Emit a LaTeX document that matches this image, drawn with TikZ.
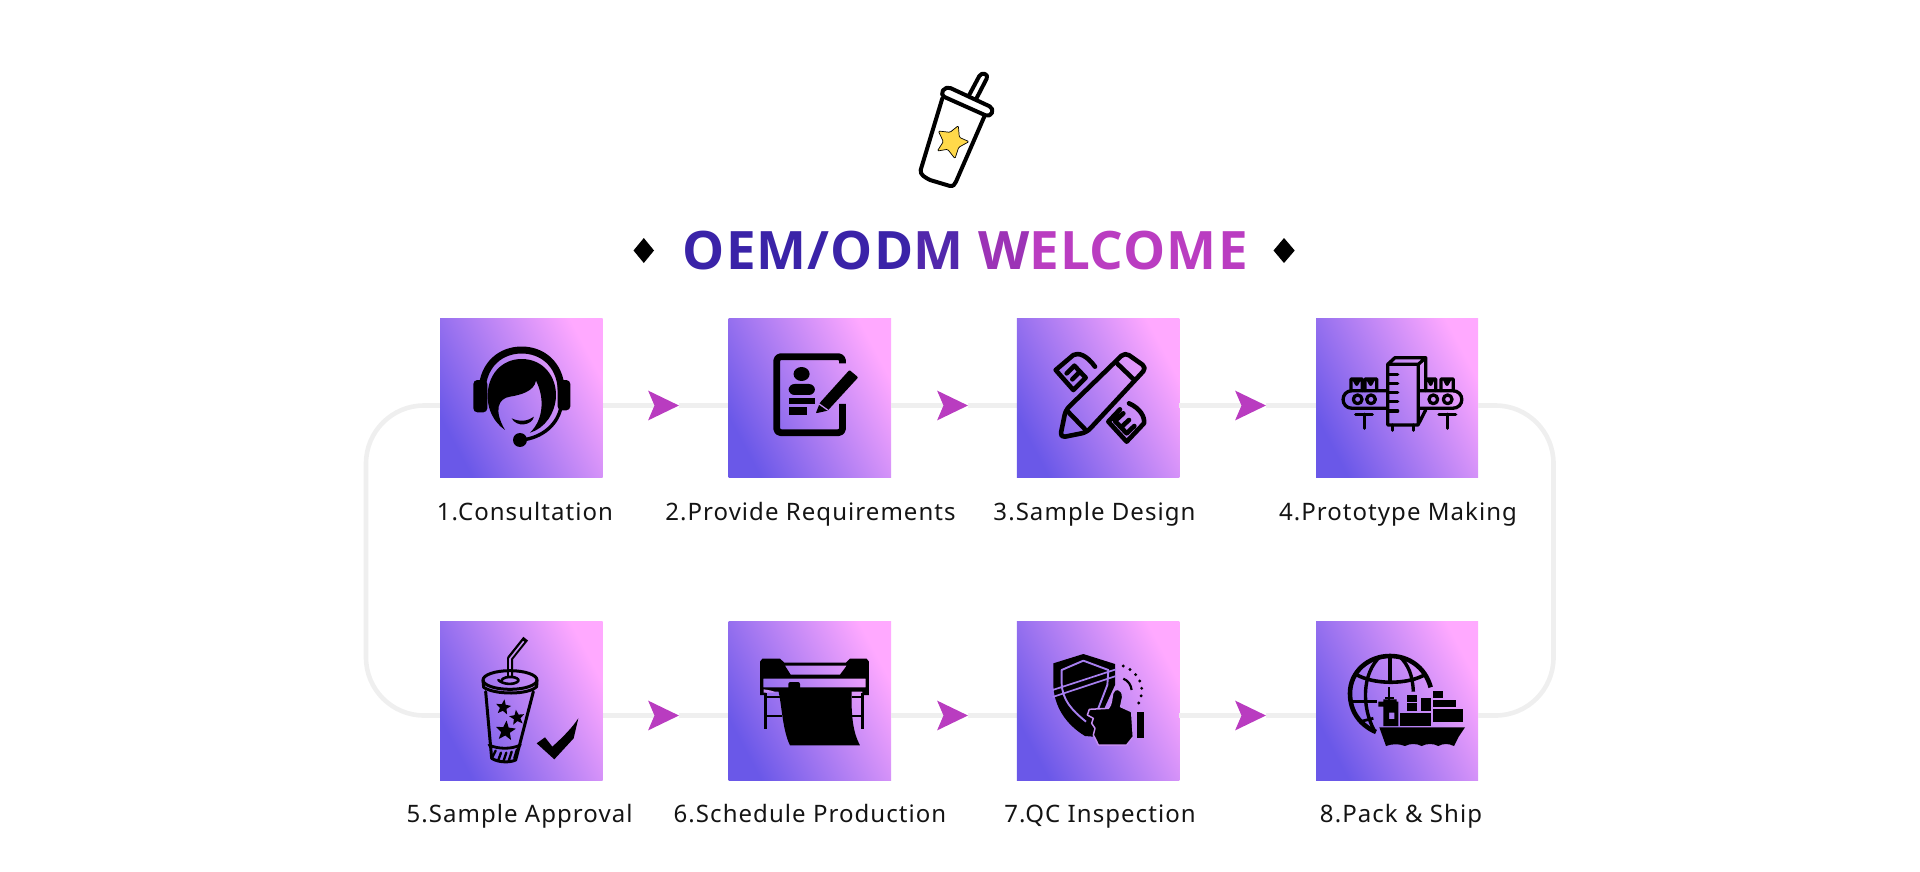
\documentclass[tikz,border=0pt]{standalone}
\usepackage{fontspec}
\setmainfont{Noto Sans}
\newfontfamily\labelfont[LetterSpace=4.4]{Noto Sans}
\newfontfamily\titlefont[LetterSpace=2]{Open Sans}
\usetikzlibrary{arrows.meta,shapes.geometric,calc}
\pgfdeclarelayer{under}
\pgfsetlayers{under,main}
\definecolor{gradA}{HTML}{6A58E8}
\definecolor{gradB}{HTML}{FFA9FF}
\definecolor{lineGrey}{HTML}{EFEFEF}
\definecolor{arrowPurple}{HTML}{B93CC0}
\definecolor{titleBlue}{HTML}{3A23A8}
\definecolor{titleMix}{HTML}{5228AC}
\definecolor{titleMix2}{HTML}{9C33B6}
\definecolor{titlePink}{HTML}{BA3DC1}
\definecolor{starYellow}{HTML}{FFD94A}
\definecolor{holeA}{HTML}{A77FF0}
\definecolor{holeB}{HTML}{C58EF3}
\tikzset{
  x=1pt,y=-1pt,
  stepbox/.style={rectangle,draw=none,inner sep=0pt,minimum width=#1,minimum height=159pt,
    bottom color=gradA,top color=gradB,shading angle=-62},
  steplabel/.style={anchor=base,inner sep=0pt,text=black!92,font=\labelfont\fontsize{24}{26}\selectfont},
  flowline/.style={draw=lineGrey,line width=4.6pt},
  flowtip/.style={-{Stealth[length=30.5pt 0 0,width=29pt 0 0,inset=6pt 0 0,color=arrowPurple,fill=arrowPurple]}},
  ink/.style={draw=black,line cap=round,line join=round},
  blackstar/.style={star,star points=5,star point ratio=2.3,fill=black,inner sep=0pt},
}
\begin{document}
\begin{tikzpicture}
\useasboundingbox (0,0) rectangle (1920,871);

% gradient squares
\node[stepbox=162.6pt] (b1) at (521.3,398.4) {};
\node[stepbox=162.6pt] (b2) at (809.8,398.4) {};
\node[stepbox=162.5pt] (b3) at (1098,398.4) {};
\node[stepbox=162pt] (b4) at (1397.2,398.4) {};
\node[stepbox=162.6pt] (b5) at (521.3,700.5) {};
\node[stepbox=162.6pt] (b6) at (809.8,700.5) {};
\node[stepbox=162.5pt] (b7) at (1098,700.5) {};
\node[stepbox=162pt] (b8) at (1397.2,700.5) {};

% labels
\node[steplabel] (l1) at (525,520) {1.Consultation};
\node[steplabel] (l2) at (810.5,520) {2.Provide Requirements};
\node[steplabel] (l3) at (1094.5,520) {3.Sample Design};
\node[steplabel] (l4) at (1398,520) {4.Prototype Making};
\node[steplabel] (l5) at (519.5,822.5) {5.Sample Approval};
\node[steplabel] (l6) at (810,822.5) {6.Schedule Production};
\node[steplabel] (l7) at (1100,822.5) {7.QC Inspection};
\node[steplabel] (l8) at (1401,822.5) {8.Pack \& Ship};

% connectors
\coordinate (t12) at (679,405.5);
\coordinate (t23) at (968,405.5);
\coordinate (t34) at (1266,405.5);
\coordinate (t56) at (679,715.5);
\coordinate (t67) at (968,715.5);
\coordinate (t78) at (1266,715.5);
\coordinate (loopL1) at (366,405.5);
\coordinate (loopL2) at (366,715.5);
\coordinate (loopR1) at (1553.5,405.5);
\coordinate (loopR2) at (1553.5,715.5);
\begin{pgfonlayer}{under}
  \draw[flowline] (t12) -- (b2.west |- t12);
  \draw[flowline] (t23) -- (b3.west |- t23);
  \draw[flowline] (t34) -- (b4.west |- t34);
  \draw[flowline] (t56) -- (b6.west |- t56);
  \draw[flowline] (t67) -- (b7.west |- t67);
  \draw[flowline] (t78) -- (b8.west |- t78);
  \draw[flowline,rounded corners=58pt] (b1.west |- loopL1) -- (loopL1) -- (loopL2) -- (b5.west |- loopL2);
  \draw[flowline,rounded corners=58pt] (b4.east |- loopR1) -- (loopR1) -- (loopR2) -- (b8.east |- loopR2);
\end{pgfonlayer}
\draw[flowline,flowtip] (b1.east |- t12) -- (t12);
\draw[flowline,flowtip] (b2.east |- t23) -- (t23);
\draw[flowline,flowtip] (b3.east |- t34) -- (t34);
\draw[flowline,flowtip] (b5.east |- t56) -- (t56);
\draw[flowline,flowtip] (b6.east |- t67) -- (t67);
\draw[flowline,flowtip] (b7.east |- t78) -- (t78);

% title
\node[anchor=base,inner sep=0pt,font=\titlefont\bfseries\fontsize{53}{60}\selectfont] (title) at (965.3,269.3)
  {\textcolor{titleBlue}{OEM/OD}\textcolor{titleMix}{M} \textcolor{titleMix2}{W}\textcolor{titlePink}{ELCOME}};
\fill (633.5,250.5) -- (643.8,238) -- (654,250.5) -- (643.8,263) -- cycle;
\fill (1273.5,250.5) -- (1284,238) -- (1294.7,250.5) -- (1284,263) -- cycle;

% top cup
\begin{scope}[shift={(900,60)},x=0.3333pt,y=-0.3333pt]
  \draw[ink,line width=4pt,fill=white] (206,108) -- (238,48) .. controls (245,35) and (268,42) .. (260,56) -- (228,118);
  \draw[ink,line width=4pt] (127,115) -- (62,330) .. controls (60,345) and (75,352) .. (90,360) -- (150,378) .. controls (160,380) and (165,372) .. (168,365) -- (252,172);
  \draw[ink,line width=4pt,rounded corners=5pt] (138,78) -- (282,145) -- (270,172) -- (120,105) -- cycle;
  \draw[draw=black,line width=0.7pt,fill=starYellow,rounded corners=1.2pt]
    (115,213) -- (150,217) -- (175,197) -- (178,232) -- (207,245) -- (176,262) -- (165,296) -- (143,268) -- (112,273) -- (130,245) -- cycle;
\end{scope}

% icon 1 headset
\begin{scope}[shift={(460,335)},x=0.3333pt,y=-0.3333pt]
  \draw[ink,line width=7pt] (66,165) .. controls (70,85) and (125,45) .. (185,45) .. controls (245,45) and (300,85) .. (304,165);
  \fill[rounded corners=4pt] (40,135) rectangle (82,232);
  \fill[rounded corners=4pt] (293,135) rectangle (331,226);
  \fill (135,285) .. controls (100,260) and (85,225) .. (83,190)
     .. controls (80,120) and (125,72) .. (185,72)
     .. controls (250,72) and (290,125) .. (288,185)
     .. controls (285,235) and (255,280) .. (210,293)
     .. controls (250,255) and (255,190) .. (228,137)
     .. controls (222,170) and (180,180) .. (150,185)
     .. controls (115,190) and (100,225) .. (135,285) -- cycle;
  \fill (155,250) .. controls (180,262) and (205,258) .. (222,245) .. controls (215,272) and (170,278) .. (155,250) -- cycle;
  \draw[ink,line width=3.4pt] (303,215) .. controls (295,265) and (250,308) .. (185,315);
  \fill (180,315) circle[radius=21];
\end{scope}

% icon 2 document
\begin{scope}[shift={(350,300)},x=0.3827pt,y=-0.3333pt]
  \draw[ink,line width=6.8pt,line cap=butt,rounded corners=4pt] (1287,190) -- (1287,170) -- (1115,170) -- (1115,398) -- (1287,398) -- (1287,312);
  \fill (1180,222) circle[radius=21];
  \fill[rounded corners=6pt] (1146,285) -- (1146,252) -- (1215,252) -- (1215,285) -- cycle;
  \fill (1146,293) rectangle (1215,313);
  \fill (1146,322) rectangle (1195,346);
  \fill[rounded corners=1pt] (1217,340) -- (1228,308) -- (1305,210) -- (1328,232) -- (1248,332) -- cycle;
  \draw[draw=holeB,line width=1.3pt] (1226,312) -- (1248,330);
\end{scope}

% icon 3 pencil and rulers
\begin{scope}[shift={(1045,345)},x=0.3333pt,y=-0.3333pt,every path/.append style={ink,line width=4.6pt}]
  \draw[rounded corners=5pt] (45,278) -- (62,195) -- (240,22) -- (305,68) -- (125,262) -- cycle;
  \draw (66,197) -- (125,258);
  \draw (218,57) -- (268,105);
  \draw (150,65) .. controls (125,30) and (100,22) .. (85,30) -- (32,75) -- (85,135) -- (122,98) -- (88,62) -- (65,85) (105,80) -- (82,103);
  \draw (252,175) .. controls (285,190) and (300,215) .. (297,235) -- (245,290) -- (190,230) -- (225,193) (210,228) -- (245,265) -- (268,243) (210,228) -- (235,205) (228,247) -- (252,225);
\end{scope}

% icon 4 conveyor and tower
\begin{scope}[shift={(1335,345)},x=0.3333pt,y=-0.3333pt,every path/.append style={ink,line width=3.3pt}]
  \draw (158,240) -- (158,58) -- (180,38) -- (272,38) -- (250,58) -- (158,58) (250,58) -- (250,240) -- (158,240);
  \draw (272,38) -- (272,100) (272,195) -- (250,238);
  \draw (158,88) -- (188,88) (158,115) -- (188,115) (158,142) -- (188,142) (158,170) -- (188,170) (158,198) -- (188,198);
  \draw (172,240) -- (172,256) (236,240) -- (236,256);
  \draw (156,137) -- (52,137) .. controls (15,137) and (15,190) .. (52,190) -- (156,190);
  \draw (252,137) -- (352,137) .. controls (390,137) and (390,190) .. (352,190) -- (252,190);
  \draw (68,163) circle[radius=13] (108,163) circle[radius=13] (295,163) circle[radius=13] (338,163) circle[radius=13];
  \draw (48,137) -- (48,102) -- (82,102) -- (82,137) (56,102) -- (65,118) -- (74,102);
  \draw (90,137) -- (90,102) -- (125,102) -- (125,137) (98,102) -- (107,118) -- (116,102);
  \draw (272,137) -- (272,102) -- (302,102) -- (302,137) (280,102) -- (287,118) -- (294,102);
  \draw (318,137) -- (318,102) -- (355,102) -- (355,137) (328,102) -- (336,118) -- (345,102);
  \draw (62,208) -- (112,208) (88,208) -- (88,250);
  \draw (312,208) -- (362,208) (338,208) -- (338,250);
\end{scope}

% icon 5 tumbler and tick
\begin{scope}[shift={(465,630)},x=0.3333pt,y=-0.3333pt]
  \draw[ink,line width=6pt,line cap=butt] (135,140) -- (135,85) -- (182,26);
  \draw[draw=holeB,line width=1.6pt] (135,140) -- (135,86) -- (176,34);
  \draw[ink,line width=3pt] (135,150) ellipse[x radius=81,y radius=28];
  \draw[ink,line width=3pt] (54,150) -- (56,172) .. controls (90,195) and (190,195) .. (215,170) -- (216,150);
  \draw[ink,line width=2.6pt] (110,150) .. controls (120,135) and (165,140) .. (160,153) .. controls (150,165) and (115,165) .. (100,150);
  \draw[ink,line width=3pt] (62,185) -- (80,385) .. controls (100,398) and (135,398) .. (152,390) -- (205,185);
  \draw[ink,line width=2.8pt] (72,345) .. controls (100,358) and (140,358) .. (166,345);
  \draw[ink,line width=2.4pt] (92,362) -- (82,382) (108,368) -- (100,390) (124,368) -- (116,392) (140,365) -- (132,390) (156,358) -- (148,385);
  \node[blackstar,minimum size=16pt,rotate=-8] (s1) at (115,232) {};
  \node[blackstar,minimum size=16pt,rotate=8] (s2) at (156,263) {};
  \node[blackstar,minimum size=21pt,rotate=-5] (s3) at (122,303) {};
  \fill[line join=round] (215,340) -- (240,322) -- (262,350) .. controls (295,320) and (320,295) .. (340,265) -- (326,325) -- (268,388) -- cycle;
\end{scope}

% icon 6 plotter
\begin{scope}[shift={(745,650)},x=0.3333pt,y=-0.3333pt]
  \fill[even odd rule] (45,135) -- (45,35) -- (52,26) -- (105,26) -- (118,38) -- (303,38) -- (315,26) -- (365,26) -- (372,35) -- (372,135) -- (352,135) -- (352,125) -- (62,125) -- (62,135) -- cycle
     (120,47) -- (305,47) -- (285,74) -- (137,74) -- cycle
     (55,86) -- (362,86) -- (362,112) -- (55,112) -- cycle;
  \fill[rounded corners=2pt] (130,96) rectangle (165,125);
  \draw[ink,line width=2.8pt,line cap=butt] (62,130) -- (62,238) (352,130) -- (352,238);
  \draw[ink,line width=2.2pt,line cap=butt] (62,140) -- (105,140) (62,197) -- (112,197) (320,140) -- (352,140) (320,197) -- (352,197);
  \fill (100,122) .. controls (110,160) and (112,240) .. (135,286) -- (345,286) .. controls (325,250) and (318,200) .. (320,122) -- cycle;
  \fill[holeB] (56,118) .. controls (70,120) and (85,122) .. (92,128) -- (56,128) -- cycle;
\end{scope}

% icon 7 shield and thumb
\begin{scope}[shift={(1030,640)},x=0.3333pt,y=-0.3333pt]
  \fill (70,70) -- (160,42) -- (255,72) -- (255,135) -- (225,200) -- (190,290) -- (165,288) .. controls (110,255) and (70,200) .. (70,130) -- cycle;
  \draw[draw=holeA,line width=1.9pt,line join=round] (168,245) .. controls (125,210) and (97,180) .. (95,130) -- (95,90) -- (160,62) -- (235,90) -- (232,135) -- (205,205);
  \draw[draw=holeA,line width=1.7pt] (68,150) -- (258,88) (68,171) -- (258,108);
  \fill[draw=holeB,line width=1.5pt,line join=round] (178,208) -- (235,205) .. controls (245,195) and (245,175) .. (248,160) .. controls (252,142) and (278,142) .. (278,172) -- (272,200) -- (305,215) -- (310,290) -- (290,315) -- (205,315) -- (198,300) -- (190,285) -- (195,265) -- (185,250) -- (190,235) -- (172,225) -- cycle;
  \fill (321,216) rectangle (342,295);
  \draw[ink,dash pattern=on 0pt off 7.6pt,line width=3.2pt] (280,78) .. controls (325,95) and (350,140) .. (326,190);
  \draw[ink,line width=2.2pt,line cap=butt] (280,116) .. controls (295,122) and (303,135) .. (305,150);
\end{scope}

% icon 8 globe and ship
\begin{scope}[shift={(1330,650)},x=0.3333pt,y=-0.3333pt]
  \draw[ink,line width=4.6pt,line cap=butt] (138,246) .. controls (90,225) and (60,185) .. (60,130) .. controls (60,65) and (115,18) .. (180,18) .. controls (235,18) and (285,50) .. (302,112);
  \draw[ink,line width=3.4pt,line cap=butt] (132,240) .. controls (95,170) and (95,70) .. (152,18);
  \draw[ink,line width=3.4pt,line cap=butt] (208,18) .. controls (235,45) and (248,75) .. (250,125);
  \draw[ink,line width=3.4pt,line cap=butt] (180,18) -- (180,100);
  \draw[ink,line width=3.6pt,line cap=butt] (76,72) .. controls (130,105) and (235,105) .. (288,72);
  \draw[ink,line width=3.6pt,line cap=butt] (62,155) -- (142,155);
  \draw[ink,line width=2.8pt,line cap=butt] (90,215) -- (130,205);
  \fill (148,232) -- (405,232) -- (385,262) -- (372,288) .. controls (355,280) and (340,280) .. (325,288) .. controls (310,280) and (290,280) .. (275,288) .. controls (260,280) and (240,280) .. (225,288) .. controls (205,280) and (185,282) .. (168,288) -- cycle;
  \fill[even odd rule] (145,155) -- (160,155) -- (160,148) -- (200,148) -- (200,155) -- (205,155) -- (205,228) -- (160,228) -- (160,170) -- (145,170) -- cycle
      (177,188) rectangle (193,207);
  \draw[ink,line width=2.2pt,line cap=butt] (178,112) -- (178,150) (165,143) -- (192,143);
  \fill (209,188) rectangle (304,228);
  \fill (230,135) rectangle (262,155);
  \fill (230,160) rectangle (262,184);
  \fill (272,144) rectangle (302,184);
  \fill (308,124) rectangle (340,145);
  \fill (308,150) rectangle (378,172);
  \fill (308,178) rectangle (400,215);
\end{scope}
\end{tikzpicture}
\end{document}
